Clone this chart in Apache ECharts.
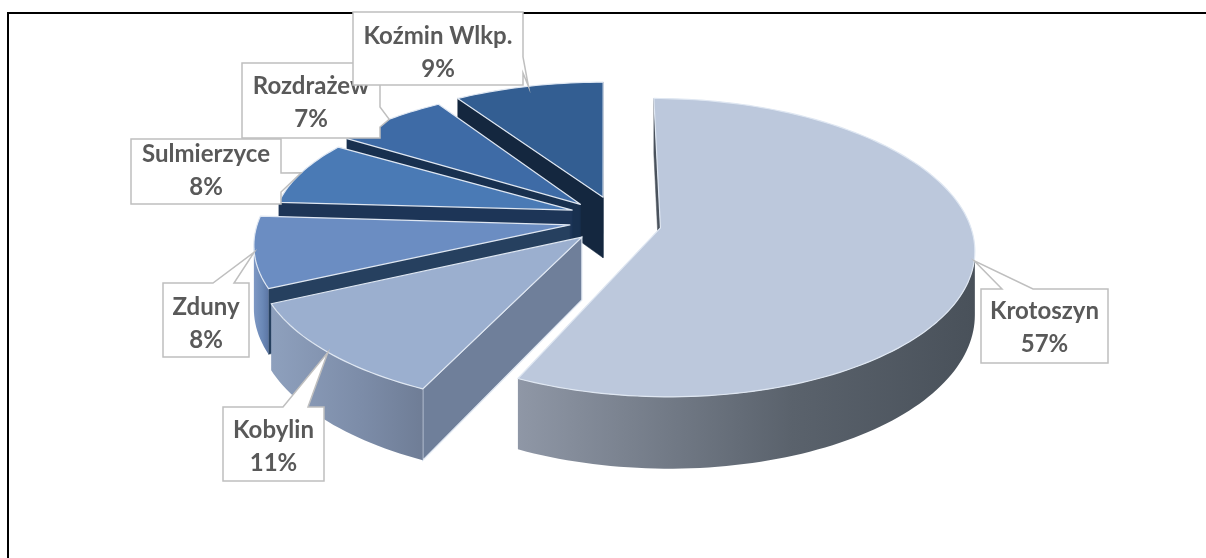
<!DOCTYPE html>
<html><head><meta charset="utf-8"><style>html,body{margin:0;padding:0;background:#fff}#c{width:1206px;height:558px}</style>
<script src="https://cdn.jsdelivr.net/npm/echarts@6/dist/echarts.min.js"></script></head>
<body><div id="c"></div><script>
const categories = ['Krotoszyn','Kobylin','Zduny','Sulmierzyce','Rozdrażew','Koźmin Wlkp.'];
const shares = [57,11,8,8,7,9];
const percentLabels = ['57%','11%','8%','8%','7%','9%'];

// look of the exploded 3D pie
const view = {cx:604, cy:222, rx:312, ry:145, k:0.132, depth:62};
const shiftX = [0.18,-0.07,-0.109,-0.103,-0.077,-0.003];
const shiftY = [-0.04,-0.103,-0.02,0.083,0.124,0.175];
const stretchX = [0.99,1.02,1,0.96,0.965,0.98];
const stretchY = [1,0.99,0.97,0.88,0.93,0.93];
const topFill = ['#bcc8dc','#9bafcf','#6b8dc2','#4a7ab5','#3e6ba6','#335e92'];
const faceFill = ['#4a525c','#6f7f9a','#26405f','#1d3557','#18304f','#14273f'];
const faceEdge = ['#4a525c','#dfe7f2','#26405f','#1d3557','#18304f','#14273f'];
const wallStops = [
 ['#8f97a6','#5a626c','#49515a'],['#8ea0bd','#7c8ca8','#6f7d96'],['#7e98c4','#6a88b6','#5c76a4'],
 ['#4a7ab5','#3e6ba6','#2f5486'],['#3e6ba6','#34609a','#284a7a'],['#335e92','#2a5080','#1d3a62']];
const boxes = [
 {x:981,y:289,w:127,h:74,side:'top',a:1002,b:1033,dy:1.5},
 {x:223,y:407,w:101,h:74,side:'top',a:283,b:308,dy:2.5},
 {x:163,y:283,w:86,h:74,side:'top',a:213,b:234,dy:3.5},
 {x:131,y:139,w:150,h:65,side:'right',a:173,b:192,dy:-1},
 {x:242,y:63,w:138,h:75,side:'right',a:107,b:127,dy:2.5},
 {x:353,y:12,w:170,h:73,side:'right',a:57,b:73,dy:4}
];

function project(X,Y,drop){
  const s = 1/(1+view.k*Y);
  return [view.cx+view.rx*X*s, view.cy-view.ry*Y*s+(drop||0)*s];
}
function makeSlice(i){
  const total = shares.reduce((a,b)=>a+b,0);
  let start = 0; for(let j=0;j<i;j++) start+=shares[j]/total*2*Math.PI;
  const end = start+shares[i]/total*2*Math.PI, mid=(start+end)/2;
  const ox=shiftX[i], oy=shiftY[i];
  const rimAt=a=>[ox+stretchX[i]*Math.sin(a),oy+stretchY[i]*Math.cos(a)];
  const rim=[]; const n=Math.max(8,Math.round((end-start)*40));
  for(let t=0;t<=n;t++) rim.push(rimAt(start+(end-start)*t/n));
  const m=rimAt(mid);
  return {start,end,mid,ox,oy,rim,tip:project(m[0],m[1],0)};
}
function callout(box,tip){
  const {x,y,w,h,side,a,b}=box;
  if(side==='top') return [[x,y],[a,y],tip,[b,y],[x+w,y],[x+w,y+h],[x,y+h]];
  return [[x,y],[x+w,y],[x+w,a],tip,[x+w,b],[x+w,y+h],[x,y+h]];
}
const order=[5,4,3,2,1,0];
function renderItem(params,api){
  const i=api.value(0), S=makeSlice(i), d=view.depth;
  const children=[];
  const apexT=project(S.ox,S.oy,0), apexB=project(S.ox,S.oy,d);
  const rT=S.rim.map(p=>project(p[0],p[1],0)), rB=S.rim.map(p=>project(p[0],p[1],d));
  const L=rT.length-1;
  const face=(p)=>({type:'polygon',shape:{points:p},style:{fill:faceFill[i],stroke:faceEdge[i],lineWidth:i===1?1.2:0.5}});
  // only the faces turned towards the viewer are drawn
  if(rT[0][0]<apexT[0]) children.push(face([apexT,rT[0],rB[0],apexB]));
  if(rT[L][0]>apexT[0]) children.push(face([apexT,rT[L],rB[L],apexB]));
  const frontT=[],frontB=[];
  for(let t=0;t<L;t++){
    if(rT[t+1][0]<rT[t][0]){
      if(!frontT.length){frontT.push(rT[t]);frontB.push(rB[t]);}
      frontT.push(rT[t+1]);frontB.push(rB[t+1]);
    }
  }
  if(frontT.length) children.push({type:'polygon',shape:{points:frontT.concat(frontB.slice().reverse())},
    style:{fill:new echarts.graphic.LinearGradient(0,0,1,0,[{offset:0,color:wallStops[i][0]},{offset:0.6,color:wallStops[i][1]},{offset:1,color:wallStops[i][2]}])}});
  children.push({type:'polygon',shape:{points:[apexT].concat(rT)},
    style:{fill:topFill[i],stroke:'#dfe7f2',lineWidth:1.2,lineJoin:'round'}});
  return {type:'group',children};
}
function renderLabel(params,api){
  const i=api.value(0), S=makeSlice(i), b=boxes[i];
  return {type:'group',children:[
    {type:'polygon',shape:{points:callout(b,S.tip)},style:{fill:'#fff',stroke:'#bfbfbf',lineWidth:1.5}},
    {type:'text',style:{x:b.x+b.w/2,y:b.y+b.h/2+b.dy,text:categories[i]+'\n'+percentLabels[i],align:'center',verticalAlign:'middle',
      font:'bold 24px Lato',lineHeight:33,fill:'#595959'}}
  ]};
}
const chart=echarts.init(document.getElementById('c'),null,{renderer:'canvas'});
chart.setOption({
  animation:false,
  graphic:[{type:'rect',z:0,shape:{x:8,y:13,width:1300,height:700},style:{fill:'#fff',stroke:'#000',lineWidth:2}}],
  series:[
    {type:'custom',coordinateSystem:'none',z:2,renderItem,data:order.map(i=>[i,shares[i]])},
    {type:'custom',coordinateSystem:'none',z:3,renderItem:renderLabel,data:[3,4,5,2,1,0].map(i=>[i,shares[i]])}
  ]
});
</script></body></html>
